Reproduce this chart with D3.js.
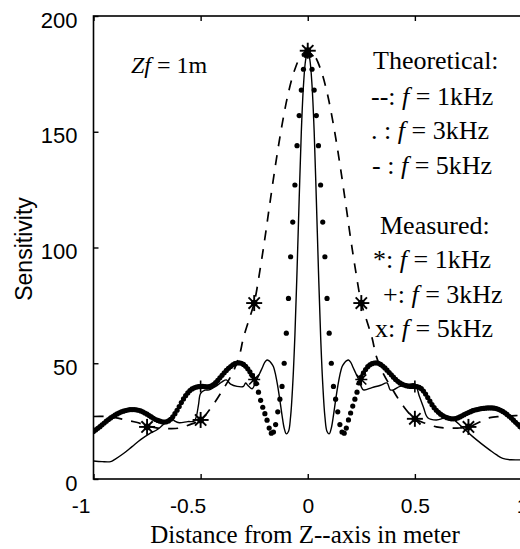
<!DOCTYPE html>
<html><head><meta charset="utf-8">
<script src="https://cdn.jsdelivr.net/npm/d3@7"></script>
<style>html,body{margin:0;padding:0;background:#fff;}svg{display:block;}</style>
</head><body>
<svg id="chart" width="520" height="549"></svg>
<script>
// ---- data ----
const xTicks = [-1, -0.5, 0, 0.5, 1];
const yTicks = [0, 50, 100, 150, 200];
const xTickLabels = ["-1", "-0.5", "0", "0.5", "1"];

// Theoretical f = 3 kHz (dotted, sampled every 0.01 m from -1 to 1)
const t3x = d3.range(-100, 101).map(i => i / 100);
const t3y = [
  20.5,21.2,21.9,22.6,23.4,24.2,25.0,25.7,26.4,27.0,
  27.6,28.1,28.6,29.0,29.3,29.6,29.8,30.0,30.0,30.0,
  29.9,29.7,29.4,29.0,28.5,28.0,27.4,26.8,26.2,25.7,
  25.3,25.0,24.7,24.6,24.7,25.1,25.8,26.9,28.2,29.7,
  31.3,33.0,34.6,36.0,37.2,38.2,38.9,39.4,39.7,39.9,
  40.0,40.0,39.9,39.8,39.9,40.2,40.8,41.6,42.6,43.7,
  44.8,45.9,46.9,47.8,48.6,49.3,49.8,50.1,50.2,50.0,
  49.5,48.7,47.6,46.3,44.8,43.2,41.2,37.5,34.0,31.0,
  28.2,25.4,22.0,19.8,20.3,23.5,29.0,34.5,40.0,50.0,
  63.0,78.0,96.0,111.0,127.0,144.0,157.0,168.0,177.0,183.0,
  185.0,
  183.0,177.0,168.0,157.0,144.0,127.0,111.0,96.0,78.0,63.0,
  50.0,40.0,34.5,29.0,23.5,20.3,19.8,22.0,25.5,28.5,
  31.5,34.5,37.5,41.5,44.0,45.8,47.3,48.5,49.3,49.8,
  50.1,50.2,50.0,49.5,48.8,48.0,47.0,46.0,45.0,44.0,
  43.0,42.2,41.5,41.0,40.6,40.3,40.1,40.0,40.0,40.0,
  39.9,39.6,39.0,38.0,36.7,35.2,33.6,32.1,30.8,29.7,
  28.8,28.0,27.4,26.9,26.5,26.2,26.0,26.0,26.1,26.4,
  26.8,27.3,27.8,28.3,28.7,29.1,29.5,29.8,30.0,30.2,
  30.4,30.5,30.6,30.7,30.7,30.7,30.6,30.4,30.1,29.7,
  29.2,28.6,27.9,27.1,26.3,25.4,24.5,23.6,22.7,21.8
];

// Theoretical f = 1 kHz (dashed)
const t1x = [-1,-0.95,-0.9,-0.85,-0.8,-0.75,-0.7,-0.65,-0.6,-0.55,-0.5,-0.45,-0.4,-0.35,-0.32,-0.3,-0.27,-0.25,-0.22,-0.2,-0.18,-0.15,-0.12,-0.09,-0.06,-0.03,0,
             0.03,0.06,0.09,0.12,0.15,0.18,0.2,0.22,0.25,0.27,0.3,0.32,0.35,0.4,0.45,0.5,0.55,0.6,0.65,0.7,0.75,0.8,0.85,0.9,0.95,1];
const t1y = [27,27,26.5,25.5,24.5,23,22,21.8,22,23.5,25.5,31,38,46,53,61,70,76,92,104,117,136,153,167,177,183,185,
             183,177,167,153,136,117,104,92,76,70,61,53,46,38,31,26,24,22.5,22,22,22.5,24.5,26.5,27,27.3,27.5];

// Theoretical f = 5 kHz (solid)
const t5x = [-1,-0.96,-0.92,-0.9,-0.86,-0.82,-0.78,-0.74,-0.7,-0.66,-0.64,-0.62,-0.6,-0.56,-0.53,-0.52,-0.51,-0.5,-0.48,-0.46,-0.43,-0.4,-0.38,-0.36,-0.33,-0.3,-0.29,-0.28,-0.26,-0.24,
             -0.23,-0.22,-0.21,-0.2,-0.19,-0.18,-0.17,-0.16,-0.15,-0.14,-0.13,-0.12,-0.11,-0.1,-0.09,-0.08,-0.07,-0.06,-0.05,-0.04,-0.03,-0.02,-0.01,0,
             0.01,0.02,0.03,0.04,0.05,0.06,0.07,0.08,0.09,0.1,0.11,0.12,0.13,0.14,0.15,0.16,0.17,0.18,0.19,0.2,0.21,0.22,0.23,
             0.24,0.26,0.3,0.34,0.37,0.385,0.4,0.43,0.46,0.5,0.52,0.54,0.56,0.6,0.64,0.66,0.69,0.71,0.74,0.77,0.81,0.85,0.88,0.91,0.95,1];
const t5y = [7.8,7.5,7.5,8.5,11,14,17,19.5,21.5,24.8,26.5,25,24.3,24.8,25,27,32,37,38.4,38.5,40,42,42.8,41,40,40,41.5,40.5,39,42.5,
             44.5,46.5,48.5,50.5,51.4,51,50,48.5,45,40,34,27.5,22,19.5,20.5,27,41,62,90,121,150,170,181,185,
             181,170,150,121,90,62,41,27,20.5,19.5,22,27.5,34,40,45,48.5,50,51,51.4,50.5,48.5,46.5,44.5,
             42.5,38.5,39.5,40.5,41.5,38.5,38.5,40,40.5,41,36,31,26.5,25.5,26.5,26.9,25,23.3,20.8,18.3,15.3,12.5,10.5,8.9,8.3,8.3];

// Measured
const m1x = [-0.75,-0.5,-0.25,0,0.25,0.5,0.75];
const m1y = [22.5,25.5,76,185,76,26,22.5];
const m3x = [-0.5,-0.25,0.25,0.5];
const m3y = [40,43,43,40];
const m5x = [-0.25,0.25];
const m5y = [43,43];

const legendLines = ["Theoretical:", "--:", ". :", "- :", "Measured:", "*:", "+:", "x:"];
const legendFreq = [null, "1kHz", "3kHz", "5kHz", null, "1kHz", "3kHz", "5kHz"];

// ---- drawing ----
const svg = d3.select("#chart");
const x = d3.scaleLinear().domain([-1, 1]).range([93.5, 522]);
const y = d3.scaleLinear().domain([0, 200]).range([479, 16]);
const sans = "'Liberation Sans', Arial, sans-serif";
const serif = "'Liberation Serif', 'Times New Roman', serif";

svg.append("clipPath").attr("id", "clip")
  .append("rect").attr("x", 93.5).attr("y", 16).attr("width", 430).attr("height", 463);
const g = svg.append("g").attr("clip-path", "url(#clip)");

// 1 kHz dashed
g.append("path")
  .datum(t1x.map((v, i) => [v, t1y[i]]))
  .attr("d", d3.line().x(d => x(d[0])).y(d => y(d[1])).curve(d3.curveCatmullRom))
  .attr("fill", "none").attr("stroke", "#000").attr("stroke-width", 1.7)
  .attr("stroke-dasharray", "10,9");

// 5 kHz solid
g.append("path")
  .datum(t5x.map((v, i) => [v, t5y[i]]))
  .attr("d", d3.line().x(d => x(d[0])).y(d => y(d[1])).curve(d3.curveCatmullRom))
  .attr("fill", "none").attr("stroke", "#000").attr("stroke-width", 1.4);

// 3 kHz dots
g.selectAll("circle.t3").data(t3x.map((v, i) => [v, t3y[i]])).join("circle")
  .attr("class", "t3").attr("cx", d => x(d[0])).attr("cy", d => y(d[1])).attr("r", 2.6).attr("fill", "#000");

// markers
function star(sel, px, py, r) {
  for (let k = 0; k < 8; k++) {
    const a = k * Math.PI / 4;
    sel.append("line").attr("x1", px).attr("y1", py)
      .attr("x2", px + r * Math.cos(a)).attr("y2", py + r * Math.sin(a))
      .attr("stroke", "#000").attr("stroke-width", 1.9);
  }
  sel.append("circle").attr("cx", px).attr("cy", py).attr("r", 3.4).attr("fill", "#000");
}
const mk = svg.append("g");
m1x.forEach((v, i) => star(mk, x(v), y(m1y[i]), 8));
m3x.forEach((v, i) => {
  const px = x(v), py = y(m3y[i]);
  mk.append("path").attr("d", `M${px-6},${py}H${px+6}M${px},${py-6}V${py+6}`).attr("stroke", "#000").attr("stroke-width", 1.6);
});
m5x.forEach((v, i) => {
  const px = x(v), py = y(m5y[i]);
  mk.append("path").attr("d", `M${px-5},${py-5}L${px+5},${py+5}M${px-5},${py+5}L${px+5},${py-5}`).attr("stroke", "#000").attr("stroke-width", 1.6);
});

// frame
svg.append("rect").attr("x", 93.5).attr("y", 16).attr("width", 428.5).attr("height", 463)
  .attr("fill", "none").attr("stroke", "#000").attr("stroke-width", 1.6);

// axes
const xAxis = svg.append("g").attr("transform", "translate(0,479)")
  .call(d3.axisBottom(x).tickValues(xTicks).tickSizeInner(-5).tickSizeOuter(0)
    .tickFormat((d, i) => xTickLabels[i]).tickPadding(19));
xAxis.select(".domain").remove();
xAxis.selectAll("text").attr("font-family", sans).attr("font-size", 21).attr("fill", "#000")
  .attr("dx", d => d < 0 ? -13 : 0);
xAxis.selectAll("line").attr("stroke-width", 1.4);

const xTop = svg.append("g").attr("transform", "translate(0,16)")
  .call(d3.axisTop(x).tickValues(xTicks).tickSizeInner(-5).tickSizeOuter(0).tickFormat(""));
xTop.select(".domain").remove();
xTop.selectAll("line").attr("stroke-width", 1.4);

const yAxis = svg.append("g").attr("transform", "translate(93.5,0)")
  .call(d3.axisLeft(y).tickValues(yTicks).tickSizeInner(-5).tickSizeOuter(0).tickPadding(16));
yAxis.select(".domain").remove();
yAxis.selectAll("text").attr("font-family", sans).attr("font-size", 22).attr("fill", "#000").attr("dy", "0.5em");
yAxis.selectAll("line").attr("stroke-width", 1.4);

// axis titles
svg.append("text").attr("x", 305).attr("y", 543).attr("text-anchor", "middle")
  .attr("font-family", serif).attr("font-size", 25).text("Distance from  Z--axis in meter");
svg.append("text").attr("transform", "translate(32,249) rotate(-90)").attr("text-anchor", "middle")
  .attr("font-family", sans).attr("font-size", 23).text("Sensitivity");

// annotation
const ann = svg.append("text").attr("x", 131).attr("y", 73).attr("font-family", serif).attr("font-size", 24);
ann.append("tspan").attr("font-style", "italic").text("Zf");
ann.append("tspan").text(" = 1m");

// legend text
const legY = [69, 105, 139, 174, 234, 268, 303, 337];
const legX = [373, 371, 371, 372, 380, 373, 383, 375];
legendLines.forEach((s, i) => {
  const t = svg.append("text").attr("x", legX[i]).attr("y", legY[i]).attr("font-family", serif).attr("font-size", 26);
  t.append("tspan").text(s);
  if (legendFreq[i]) {
    t.append("tspan").text(" ");
    t.append("tspan").attr("font-style", "italic").text("f");
    t.append("tspan").text(" = " + legendFreq[i]);
  }
});
</script>
</body></html>
